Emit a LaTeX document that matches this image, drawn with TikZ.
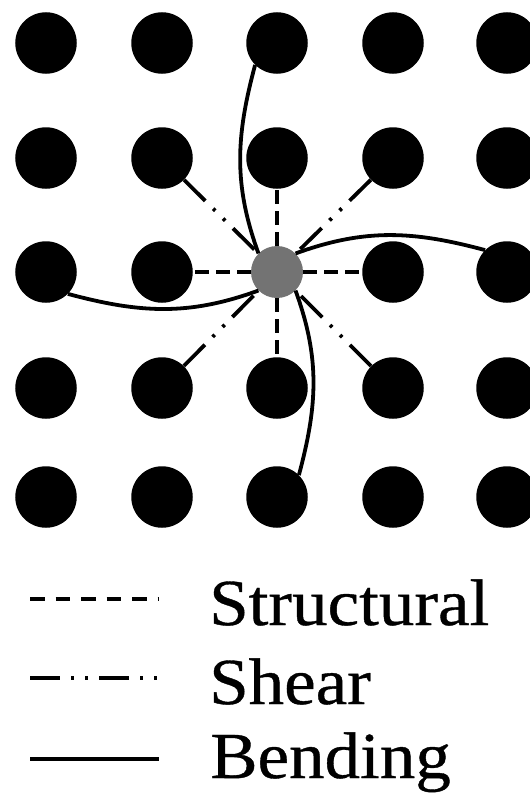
\documentclass[tikz,border=0pt]{standalone}
\usepackage{fontspec}
\setmainfont[FakeStretch=1.08,FakeBold=0.6]{Liberation Serif}
\begin{document}
\begin{tikzpicture}[x=1bp,y=-1bp,
  dot/.style={circle, fill=black, minimum size=61.5bp, inner sep=0pt},
  hub/.style={circle, fill=black!55, minimum size=52bp, inner sep=0pt},
  structural/.style={line width=3.8bp, dash pattern=on 14bp off 7bp},
  shear/.style={line width=3.8bp, dash pattern=on 30bp off 11bp on 3bp off 11bp on 3bp off 11bp},
  bending/.style={line width=3.8bp},
  legtext/.style={anchor=base west, inner sep=0pt, font=\fontsize{66}{80}\selectfont}]
\useasboundingbox (0,0) rectangle (530,793);
% grid of particles
\foreach \x [count=\i] in {46,162,277,393,507}
  \foreach \y [count=\j] in {43,158,272,388,497} {
    \pgfmathtruncatemacro\k{and(\i==3,\j==3)}
    \ifnum\k=0 \node[dot] (d\i\j) at (\x,\y) {}; \fi
  }
\node[hub] (c) at (277,272) {};
% structural springs
\draw[structural] (c) -- (d32);
\draw[structural] (c) -- (d23);
\draw[structural] (c) -- (d43);
\draw[structural] (c) -- (d34);
% shear springs
\draw[shear] (d22) -- (c);
\draw[shear] (d42) -- (c);
\draw[shear] (d24) -- (c);
\draw[shear] (d44) -- (c);
% bending springs
\draw[bending] (d31.225) to[out=255,in=110] (c.135);
\draw[bending] (d53.135) to[out=165,in=20] (c.45);
\draw[bending] (d35.45) to[out=75,in=290] (c.315);
\draw[bending] (d13.315) to[out=345,in=200] (c.225);
% legend
\coordinate (s1) at (30,599); \coordinate (s2) at (159,599);
\draw[structural, dash pattern=on 14.5bp off 11bp] (s1) -- (s2);
\node[legtext] (ts) at (209,625) {Structural};
\coordinate (h1) at (30,678); \coordinate (h2) at (159,678);
\draw[shear] (h1) -- (h2);
\node[legtext] (th) at (209,704) {Shear};
\coordinate (b1) at (30,759); \coordinate (b2) at (159,759);
\draw[bending, line width=4.2bp] (b1) -- (b2);
\node[legtext] (tb) at (210,778) {Bending};
\end{tikzpicture}
\end{document}
